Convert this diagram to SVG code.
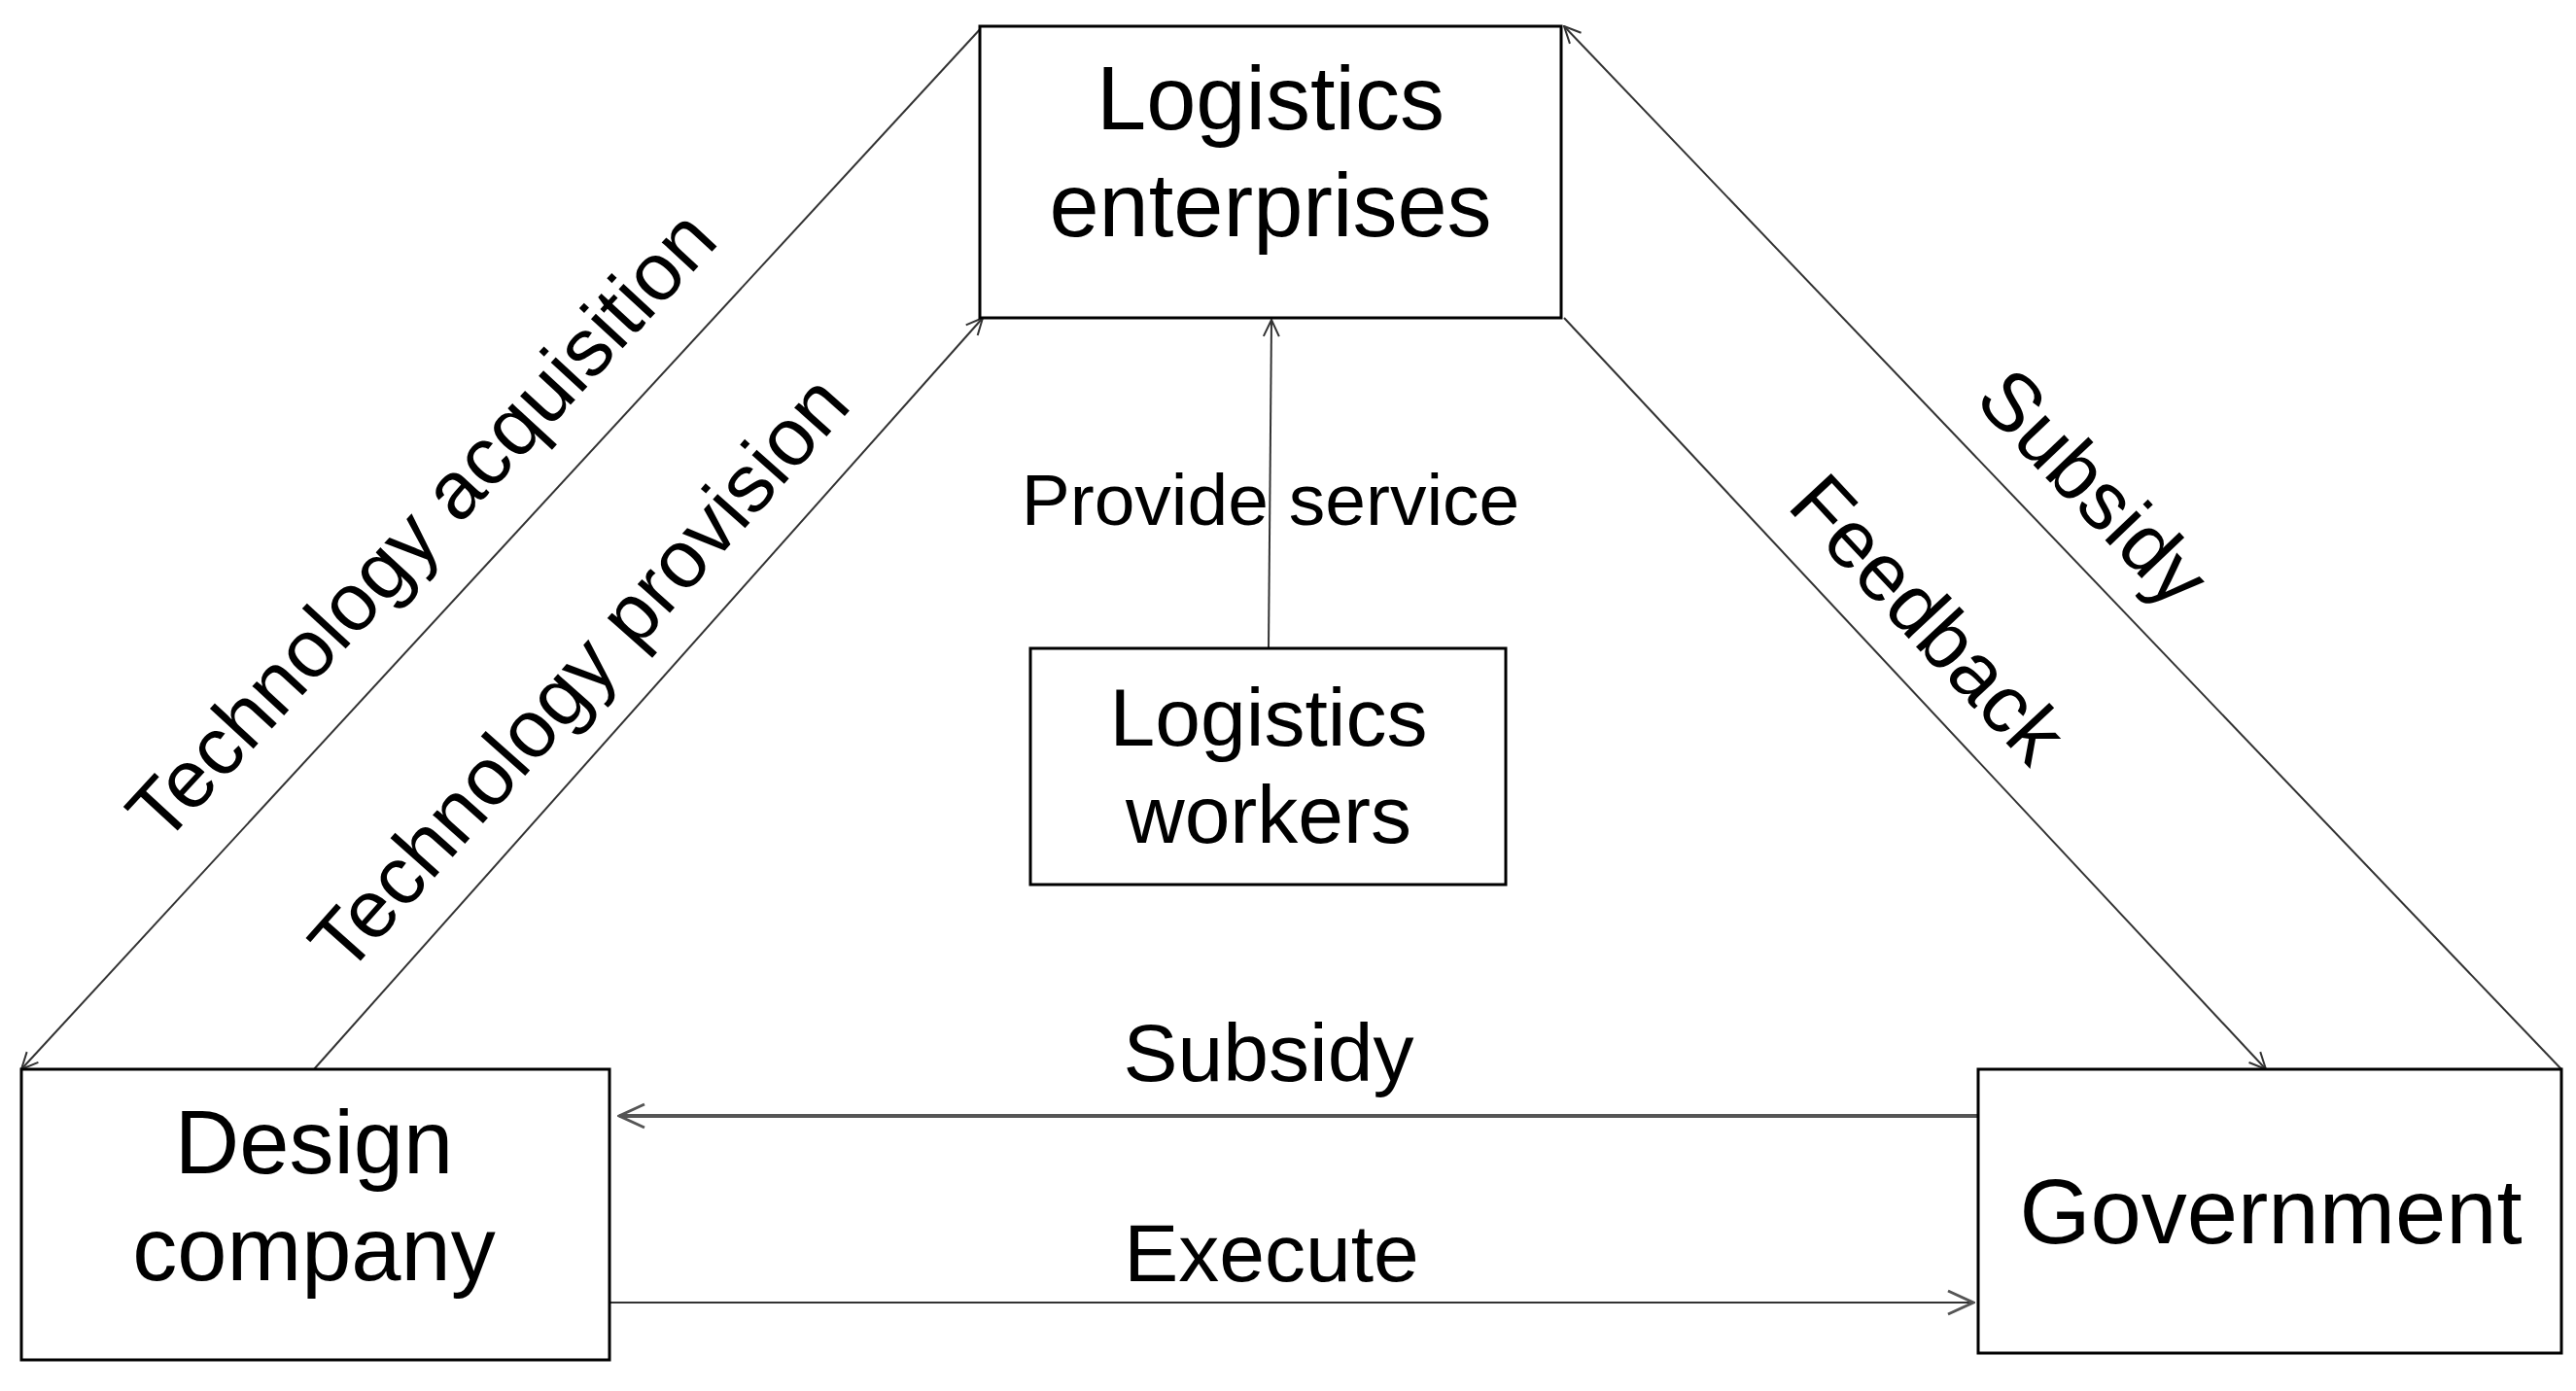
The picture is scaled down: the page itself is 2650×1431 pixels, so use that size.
<svg xmlns="http://www.w3.org/2000/svg" width="2650" height="1431" viewBox="0 0 2650 1431">
<defs>
<style>
.box{fill:#fff;stroke:#000;stroke-width:3}
.t{font-family:"Liberation Sans",Arial,sans-serif;fill:#000;text-anchor:middle}
.c{stroke:#333;stroke-width:2;fill:none}
</style>
<marker id="a" viewBox="0 0 20 20" refX="19" refY="10" markerWidth="20" markerHeight="20" markerUnits="userSpaceOnUse" orient="auto">
<path d="M2,2 L19,10 L2,18" fill="none" stroke="#333" stroke-width="2"/>
</marker>
<marker id="b" viewBox="0 0 30 30" refX="28" refY="15" markerWidth="30" markerHeight="30" markerUnits="userSpaceOnUse" orient="auto">
<path d="M2,3 L28,15 L2,27" fill="none" stroke="#555" stroke-width="3"/>
</marker>
</defs>
<rect width="2650" height="1431" fill="#fff"/>
<g id="connectors">
<line class="c" x1="1011" y1="27" x2="22" y2="1100" marker-end="url(#a)"/>
<line class="c" x1="323" y1="1100" x2="1011" y2="327" marker-end="url(#a)"/>
<line class="c" x1="1305" y1="667" x2="1308" y2="329" marker-end="url(#a)"/>
<line class="c" x1="1609" y1="327" x2="2331" y2="1100" marker-end="url(#a)"/>
<line class="c" x1="2635" y1="1100" x2="1609" y2="27" marker-end="url(#a)"/>
<line x1="2035" y1="1148" x2="637" y2="1148" stroke="#555" stroke-width="4" marker-end="url(#b)"/>
<line class="c" x1="627" y1="1340" x2="2030" y2="1340" stroke-width="3" marker-end="url(#b)"/>
<text class="t" font-size="84" transform="translate(433,540) rotate(-47.3)" dy=".35em">Technology acquisition</text>
<text class="t" font-size="84" transform="translate(595,692) rotate(-48.4)" dy=".35em">Technology provision</text>
<text class="t" font-size="84" transform="translate(2154,501) rotate(46.3)" dy=".35em">Subsidy</text>
<text class="t" font-size="84" transform="translate(1984,636) rotate(47)" dy=".35em">Feedback</text>
<text class="t" font-size="75" x="1307" y="540">Provide service</text>
<text class="t" font-size="84" x="1305" y="1112">Subsidy</text>
<text class="t" font-size="84" x="1308" y="1318">Execute</text>
</g>
<g id="logistics-enterprises">
<rect class="box" x="1008" y="27" width="598" height="300"/>
<text class="t" font-size="92" x="1307" y="133">Logistics</text>
<text class="t" font-size="92" x="1307" y="243">enterprises</text>
</g>
<g id="logistics-workers">
<rect class="box" x="1060" y="667" width="489" height="243"/>
<text class="t" font-size="84" x="1305" y="767">Logistics</text>
<text class="t" font-size="84" x="1305" y="867">workers</text>
</g>
<g id="design-company">
<rect class="box" x="22" y="1100" width="605" height="299"/>
<text class="t" font-size="92" x="323" y="1207">Design</text>
<text class="t" font-size="92" x="323" y="1317">company</text>
</g>
<g id="government">
<rect class="box" x="2035" y="1100" width="600" height="292"/>
<text class="t" font-size="94" x="2336" y="1279">Government</text>
</g>
</svg>
